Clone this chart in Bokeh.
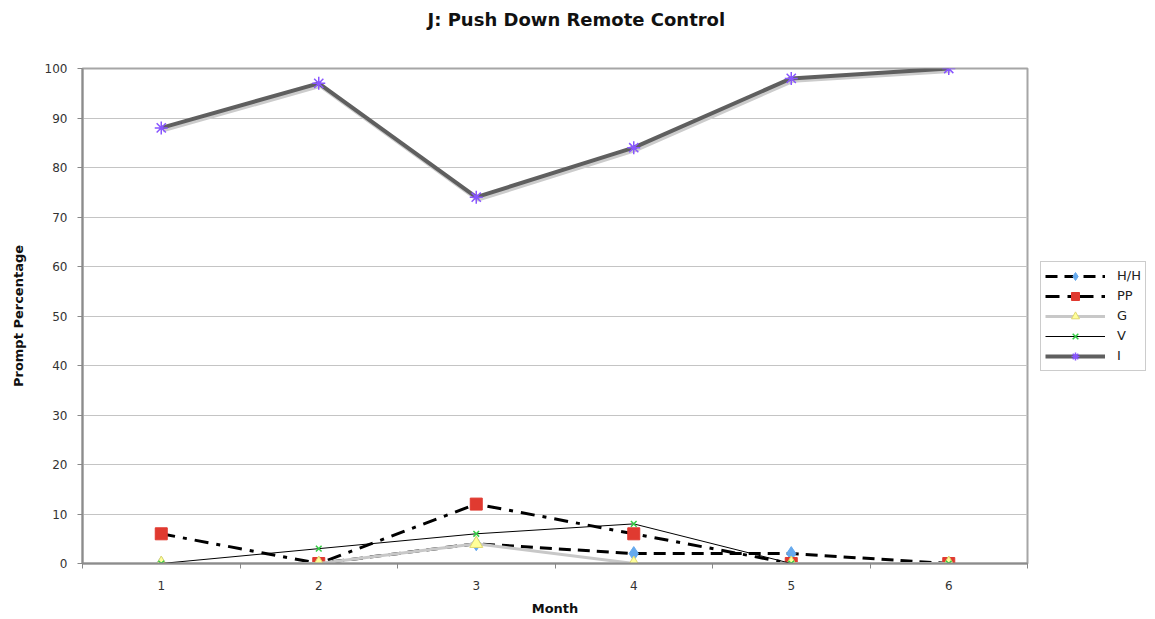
from bokeh.plotting import figure
from bokeh.models import Range1d, FixedTicker, Legend, LegendItem, Title
from bokeh.embed import file_html
from bokeh.resources import INLINE

months = [1, 2, 3, 4, 5, 6]
month_labels = ["1", "2", "3", "4", "5", "6"]
hh = [0, 0, 4, 2, 2, 0]
pp = [6, 0, 12, 6, 0, 0]
g = [0, 0, 4, 0, 0, 0]
v = [0, 3, 6, 8, 0, 0]
i_vals = [88, 97, 74, 84, 98, 100]
series_names = ["H/H", "PP", "G", "V", "I"]
title_text = "J: Push Down Remote Control"

FONT = "DejaVu Sans"

p = figure(frame_width=945, frame_height=495, output_backend="svg", toolbar_location=None,
           x_range=Range1d(0.5, 6.5), y_range=Range1d(0, 100),
           min_border_left=82, min_border_right=123, min_border_top=68, min_border_bottom=52)

# real title (outer), spacer title added later sits closer to the frame
p.title.text = title_text
p.title.align = "left"
p.title.offset = 345
p.title.standoff = 10
p.title.text_font = FONT
p.title.text_font_size = "18px"
p.title.text_font_style = "bold"
p.title.text_color = "#111111"
spacer = Title(text=" ", text_font=FONT, text_font_size="10px", standoff=21)
p.add_layout(spacer, "above")

p.background_fill_color = "white"
p.outline_line_color = "#a6a6a6"
p.outline_line_width = 2

p.xaxis.ticker = FixedTicker(ticks=months, minor_ticks=[0.5, 1.5, 2.5, 3.5, 4.5, 5.5, 6.5])
p.xaxis.major_label_overrides = {m: l for m, l in zip(months, month_labels)}
p.xaxis.major_tick_line_color = None
p.xaxis.minor_tick_line_color = "#888888"
p.xaxis.minor_tick_out = 5
p.xaxis.minor_tick_in = 0
p.yaxis.ticker = FixedTicker(ticks=list(range(0, 101, 10)), minor_ticks=[])
p.yaxis.major_tick_out = 5
p.yaxis.major_tick_in = 0
p.yaxis.major_tick_line_color = "#888888"
for ax in (p.xaxis, p.yaxis):
    ax.axis_line_color = "#8c8c8c"
    ax.axis_line_width = 2
    ax.major_label_text_font = FONT
    ax.major_label_text_font_size = "12px"
    ax.major_label_text_color = "#333333"
    ax.axis_label_text_font = FONT
    ax.axis_label_text_font_size = "13px"
    ax.axis_label_text_font_style = "bold"
    ax.axis_label_text_color = "#111111"
p.xaxis.axis_label = "Month"
p.yaxis.axis_label = "Prompt Percentage"
p.xaxis.major_label_standoff = 11
p.yaxis.major_label_standoff = 10
p.xaxis.axis_label_standoff = 8
p.yaxis.axis_label_standoff = 16

p.xgrid.grid_line_color = None
p.ygrid.grid_line_color = "#c4c4c4"
p.ygrid.grid_line_width = 1

items = []
# H/H
l1 = p.line(months, hh, line_color="black", line_width=3, line_dash="12 7")
m1 = p.scatter(months, hh, marker="diamond", size=14, fill_color="#66aaee", line_color="#66aaee")
items.append(LegendItem(label=series_names[0], renderers=[l1, m1]))
# PP
l2 = p.line(months, pp, line_color="black", line_width=3, line_dash="14 8 4 8")
m2 = p.scatter(months, pp, marker="square", size=12, fill_color="#e03a30", line_color="#e03a30")
items.append(LegendItem(label=series_names[1], renderers=[l2, m2]))
# G
l3 = p.line(months, g, line_color="#c8c8c8", line_width=3)
m3 = p.scatter(months, g, marker="triangle", size=13, fill_color="#ffff99", line_color="#e0d870")
items.append(LegendItem(label=series_names[2], renderers=[l3, m3]))
# V
l4 = p.line(months, v, line_color="black", line_width=1)
m4 = p.scatter(months, v, marker="x", size=8, line_color="#33cc44", line_width=1.5)
items.append(LegendItem(label=series_names[3], renderers=[l4, m4]))
# I
ls = p.line([m + 0.01 for m in months], [val - 0.5 for val in i_vals], line_color="#cccccc", line_width=4)
l5 = p.line(months, i_vals, line_color="#5f5f5f", line_width=4)
m5 = p.scatter(months, i_vals, marker="asterisk", size=13, line_color="#8855ff", line_width=1.5)
items.append(LegendItem(label=series_names[4], renderers=[l5, m5]))

legend = Legend(items=items, location="left", orientation="vertical")
legend.border_line_color = "#999999"
legend.border_line_width = 1
legend.background_fill_alpha = 1
legend.label_text_font = FONT
legend.label_text_font_size = "13px"
legend.label_text_color = "#222222"
legend.label_height = 20
legend.glyph_height = 20
legend.glyph_width = 60
legend.spacing = 0
legend.padding = 4
legend.margin = 13
legend.label_standoff = 12
p.add_layout(legend, "right")

open("out.html", "w").write(file_html(p, INLINE))
